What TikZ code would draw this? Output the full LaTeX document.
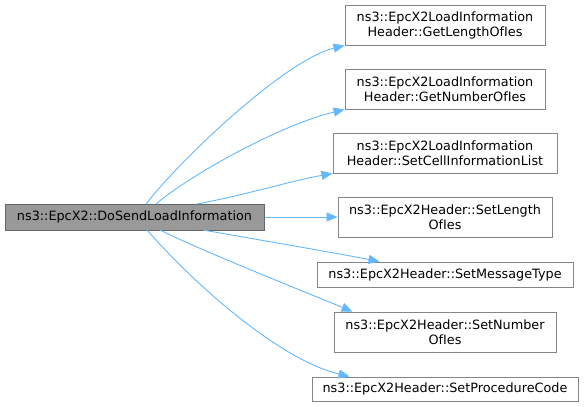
\documentclass[tikz,border=0pt]{standalone}
\usepackage{fontspec}
\setmainfont{DejaVu Sans}
\usetikzlibrary{arrows.meta,calc}
\definecolor{edgeblue}{HTML}{63B8FF}
\definecolor{mainfill}{HTML}{999999}
\definecolor{mainborder}{HTML}{666666}
\definecolor{boxborder}{HTML}{858585}
\begin{document}
\begin{tikzpicture}[x=1pt,y=-1pt,
  box/.style={draw=boxborder, fill=white, line width=1pt, inner sep=0pt, align=center,
    font=\fontsize{12.8}{15}\selectfont},
  mainbox/.style={box, draw=mainborder, fill=mainfill},
  edge/.style={draw=edgeblue, line width=0.9pt, -{Triangle[length=11pt,width=9pt]}}]
\useasboundingbox (0,0) rectangle (584,407);
\node[mainbox, minimum width=259, minimum height=26] (m) at (134.5,217) {ns3::EpcX2::DoSendLoadInformation};
\node[box, minimum width=200, minimum height=40] (b1) at (445,25) {ns3::EpcX2LoadInformation\\Header::GetLengthOfIes};
\node[box, minimum width=200, minimum height=40] (b2) at (445,89) {ns3::EpcX2LoadInformation\\Header::GetNumberOfIes};
\node[box, minimum width=224, minimum height=40] (b3) at (445,153) {ns3::EpcX2LoadInformation\\Header::SetCellInformationList};
\node[box, minimum width=214, minimum height=40] (b4) at (445,217) {ns3::EpcX2Header::SetLength\\OfIes};
\node[box, minimum width=256, minimum height=25] (b5) at (445,274.5) {ns3::EpcX2Header::SetMessageType};
\node[box, minimum width=222, minimum height=40] (b6) at (445,332) {ns3::EpcX2Header::SetNumber\\OfIes};
\node[box, minimum width=266, minimum height=24] (b7) at (445,389) {ns3::EpcX2Header::SetProcedureCode};
\coordinate (s1) at (146,204);
\coordinate (s2) at (156,204);
\coordinate (s3) at (197,204);
\coordinate (s5) at (203,230);
\coordinate (s6) at (160,230);
\coordinate (s7) at (147,230);
\draw[edge] (s1) .. controls (180,160) and (285,60) .. (b1.south west);
\draw[edge] (s2) .. controls (190,175) and (280,125) .. (b2.south west);
\draw[edge] (s3) .. controls (250,194) and (290,181) .. (b3.south west);
\draw[edge] (m.east) -- (b4.west);
\draw[edge] (s5) .. controls (260,240) and (330,252) .. ($(b5.north west)+(63,0)$);
\draw[edge] (s6) .. controls (200,250) and (300,290) .. ($(b6.north west)+(19,0)$);
\draw[edge] (s7) .. controls (195,285) and (280,360) .. ($(b7.north west)+(38,0)$);
\end{tikzpicture}
\end{document}
